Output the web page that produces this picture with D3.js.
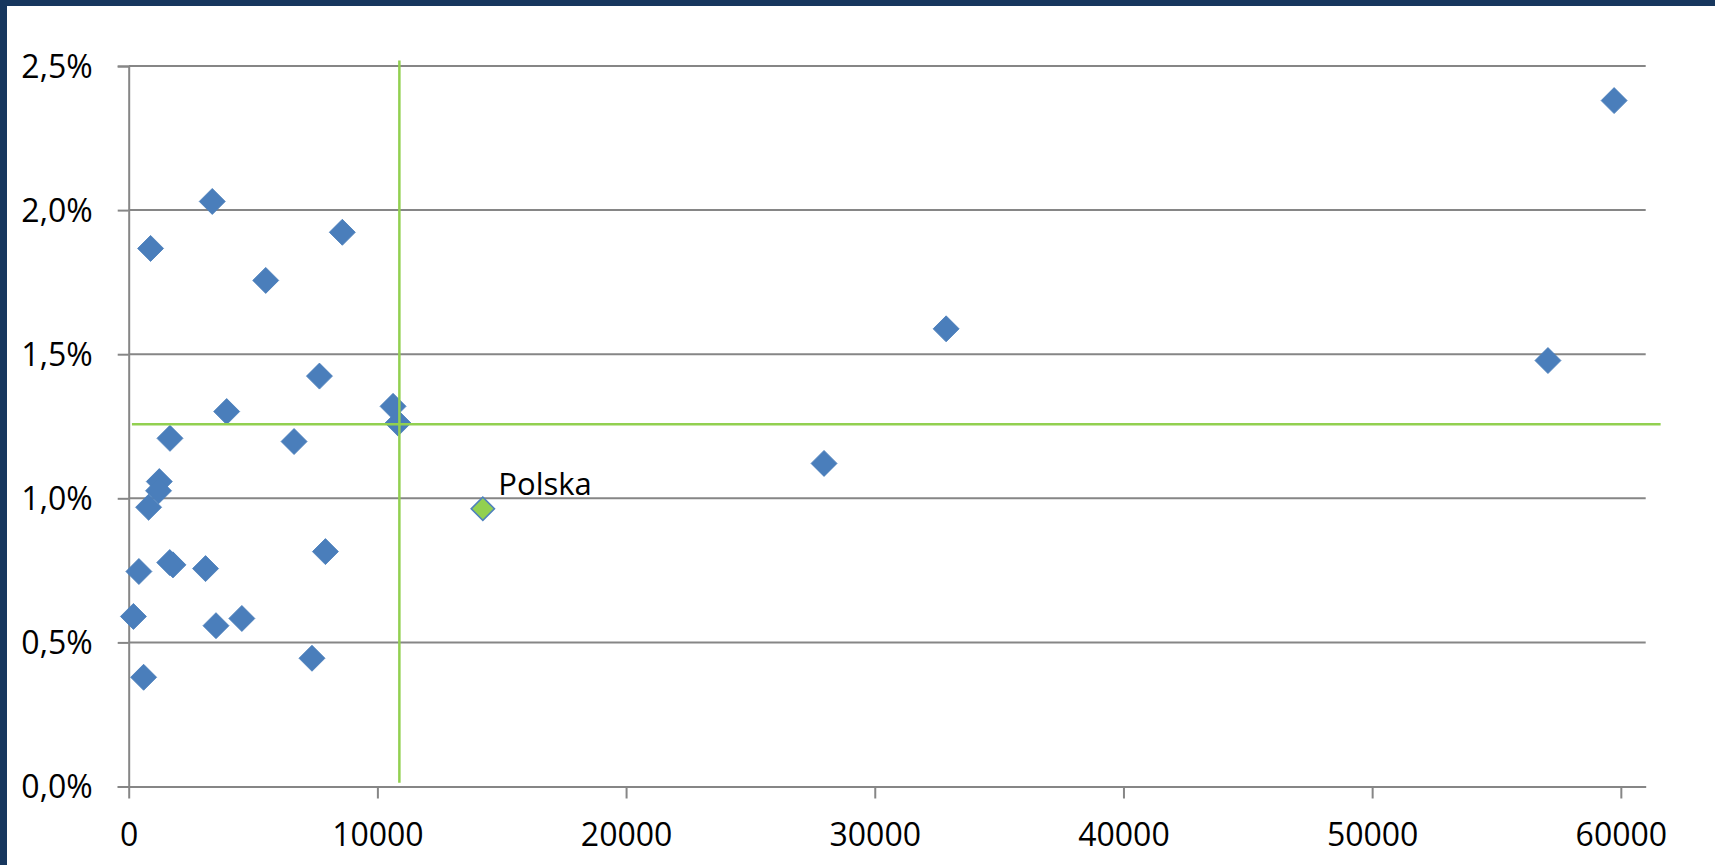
<!DOCTYPE html>
<html>
<head>
<meta charset="utf-8">
<script src="https://cdn.jsdelivr.net/npm/d3@7"></script>
<style>
  html, body { margin: 0; padding: 0; background: #ffffff; }
  svg { display: block; }
  text { font-family: "Open Sans", "Noto Sans", sans-serif; fill: #000; }
</style>
</head>
<body>
<svg id="chart" width="1715" height="865"></svg>
<script>
// GDP per capita (x) against yearly share (y, fraction) for the member states
const countryX = [3360, 880, 8590, 5510, 7670, 3940, 10630, 10830, 1660, 6650,
                  1230, 1200, 800, 7910, 410, 1650, 1780, 3090, 190, 3510,
                  4550, 7370, 600, 27960, 32870, 57070, 59730];
const countryY = [0.0203, 0.01867, 0.01923, 0.01756, 0.01424, 0.01301, 0.01319, 0.01261, 0.01208, 0.01197,
                  0.01058, 0.01026, 0.00969, 0.00815, 0.00746, 0.00777, 0.00769, 0.00756, 0.0059, 0.00558,
                  0.00583, 0.00445, 0.00379, 0.01121, 0.01588, 0.01478, 0.0238];

// Highlighted country
const highlightName = "Polska";
const highlightX = 14240;
const highlightY = 0.009635;

// Average lines
const meanX = 10884;
const meanY = 0.01257;
const meanXSpanY = [0.00013, 0.02519];
const meanYSpanX = [130, 61600];

// Axis ticks
const xTicks = [0, 10000, 20000, 30000, 40000, 50000, 60000];
const yTicks = [0, 0.005, 0.01, 0.015, 0.02, 0.025];
const xDomain = [0, 61000];
const yDomain = [0, 0.025];

const svg = d3.select("#chart");
const W = 1715, H = 865;

const x = d3.scaleLinear().domain(xDomain).range([128.7, 1645.7]);
const y = d3.scaleLinear().domain(yDomain).range([786.5, 66]);

const plLocale = d3.formatLocale({ decimal: ",", thousands: "\u00a0", grouping: [3], currency: ["", " zł"] });
const pct = plLocale.format(".1%");
const num = d3.format("d");

const gridColor = "#868686";
const green = "#92D050";
const blue = "#4A7EBB";

// frame
svg.append("rect").attr("x", 0).attr("y", 0).attr("width", W).attr("height", H).attr("fill", "#ffffff");
svg.append("rect").attr("x", 0).attr("y", 0).attr("width", W).attr("height", 6).attr("fill", "#17375E");
svg.append("rect").attr("x", 0).attr("y", 0).attr("width", 7).attr("height", H).attr("fill", "#17375E");

// horizontal gridlines
svg.append("g")
  .selectAll("line")
  .data(yTicks.filter(d => d > 0))
  .join("line")
  .attr("x1", x(xDomain[0])).attr("x2", x(xDomain[1]))
  .attr("y1", d => y(d)).attr("y2", d => y(d))
  .attr("stroke", gridColor).attr("stroke-width", 2);

// y axis
const yAxis = svg.append("g")
  .attr("transform", `translate(${x(0)},0)`)
  .call(d3.axisLeft(y).tickValues(yTicks).tickFormat(pct).tickSize(11).tickPadding(25));
yAxis.select(".domain").attr("stroke", gridColor).attr("stroke-width", 2);
yAxis.selectAll(".tick line").attr("stroke", gridColor).attr("stroke-width", 2);
yAxis.selectAll(".tick text")
  .attr("font-size", 32).attr("dy", "0.357em")
  .style("font-family", '"Open Sans", sans-serif').attr("fill", "#000");

// x axis
const xAxis = svg.append("g")
  .attr("transform", `translate(0,${y(0)})`)
  .call(d3.axisBottom(x).tickValues(xTicks).tickFormat(num).tickSize(12).tickSizeOuter(0));
xAxis.select(".domain").attr("stroke", gridColor).attr("stroke-width", 2);
xAxis.selectAll(".tick line").attr("stroke", gridColor).attr("stroke-width", 2);
xAxis.selectAll(".tick text")
  .attr("font-size", 32).attr("y", 59.5).attr("dy", 0)
  .style("font-family", '"Open Sans", sans-serif').attr("fill", "#000");

// markers: squares turned 45 degrees
const diamond = d3.symbol().type(d3.symbolSquare).size(338);
const pts = countryX.map((v, i) => ({ x: v, y: countryY[i] }));
svg.append("g")
  .selectAll("path")
  .data(pts)
  .join("path")
  .attr("d", diamond)
  .attr("transform", d => `translate(${x(d.x)},${y(d.y)}) rotate(45)`)
  .attr("fill", blue)
  .attr("stroke", blue).attr("stroke-width", 0.8);

// average lines
svg.append("line")
  .attr("x1", x(meanX)).attr("x2", x(meanX))
  .attr("y1", y(meanXSpanY[0])).attr("y2", y(meanXSpanY[1]))
  .attr("stroke", green).attr("stroke-width", 2.5);
svg.append("line")
  .attr("x1", x(meanYSpanX[0])).attr("x2", x(meanYSpanX[1]))
  .attr("y1", y(meanY)).attr("y2", y(meanY))
  .attr("stroke", green).attr("stroke-width", 2.5);

// highlighted point and its label
svg.append("path")
  .attr("d", d3.symbol().type(d3.symbolSquare).size(270))
  .attr("transform", `translate(${x(highlightX)},${y(highlightY)}) rotate(45)`)
  .attr("fill", green)
  .attr("stroke", "#4F81BD").attr("stroke-width", 1.6);
svg.append("text")
  .attr("x", x(highlightX) + 15.5)
  .attr("y", y(highlightY) - 14)
  .attr("font-size", 31)
  .text(highlightName);
</script>
</body>
</html>
